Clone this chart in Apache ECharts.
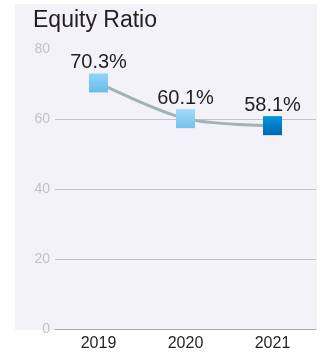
<!DOCTYPE html>
<html><head><meta charset="utf-8">
<script src="https://cdn.jsdelivr.net/npm/echarts@6/dist/echarts.min.js"></script>
<style>html,body{margin:0;padding:0;background:#fff}#c{width:320px;height:356px}</style>
</head><body><div id="c"></div>
<script>
var categories = ['2019', '2020', '2021'];
var equityRatio = [70.3, 60.1, 58.1];
var yTicks = [0, 20, 40, 60, 80];

var markerColors = [
  ['#93d4f6', '#68bceb'],
  ['#a3daf8', '#74c2ed'],
  ['#0097da', '#0067b4']
];
var narrow = '"Liberation Sans Narrow", "Liberation Sans", Arial, sans-serif';
var chart = echarts.init(document.getElementById('c'), null, {renderer: 'canvas'});
chart.setOption({
  animation: false,
  backgroundColor: '#ffffff',
  graphic: [{
    type: 'rect', z: -10, silent: true,
    shape: {x: 15, y: 4, width: 302, height: 326},
    style: {fill: '#f3f2f8'}
  }],
  title: {
    text: 'Equity Ratio', left: 28, top: 4,
    textStyle: {fontFamily: 'Liberation Sans', fontSize: 23, fontWeight: 'normal', color: '#231f20'}
  },
  grid: {left: 55, right: 4, top: 49, bottom: 27, containLabel: false},
  xAxis: {
    type: 'category', data: categories, boundaryGap: true,
    axisLine: {show: true, lineStyle: {color: '#a8a8ac', width: 1}},
    axisTick: {show: false},
    axisLabel: {fontFamily: narrow, fontSize: 16, color: '#231f20', margin: 7}
  },
  yAxis: {
    type: 'value', min: yTicks[0], max: yTicks[yTicks.length - 1], interval: 20,
    axisLine: {show: false}, axisTick: {show: false},
    axisLabel: {fontFamily: 'Liberation Sans', fontSize: 14, color: '#c2c2c6', margin: 5},
    splitLine: {show: true, lineStyle: {color: ['#a8a8ac', '#c4c4c8', '#c4c4c8', '#c4c4c8', 'rgba(0,0,0,0)'], width: 1}}
  },
  series: [{
    type: 'line', smooth: 0.3,
    symbol: 'rect', symbolSize: 19,
    lineStyle: {color: '#a2b2b6', width: 3},
    label: {show: true, position: 'top', distance: 1, formatter: function (p) { return p.value.toFixed(1) + '%'; },
      fontFamily: narrow, fontSize: 20, color: '#231f20'},
    data: equityRatio.map(function (v, i) {
      return {value: v, itemStyle: {color: new echarts.graphic.LinearGradient(0, 0, 0, 1, [
        {offset: 0, color: markerColors[i][0]}, {offset: 1, color: markerColors[i][1]}]), borderWidth: 0}};
    })
  }]
});
</script></body></html>
